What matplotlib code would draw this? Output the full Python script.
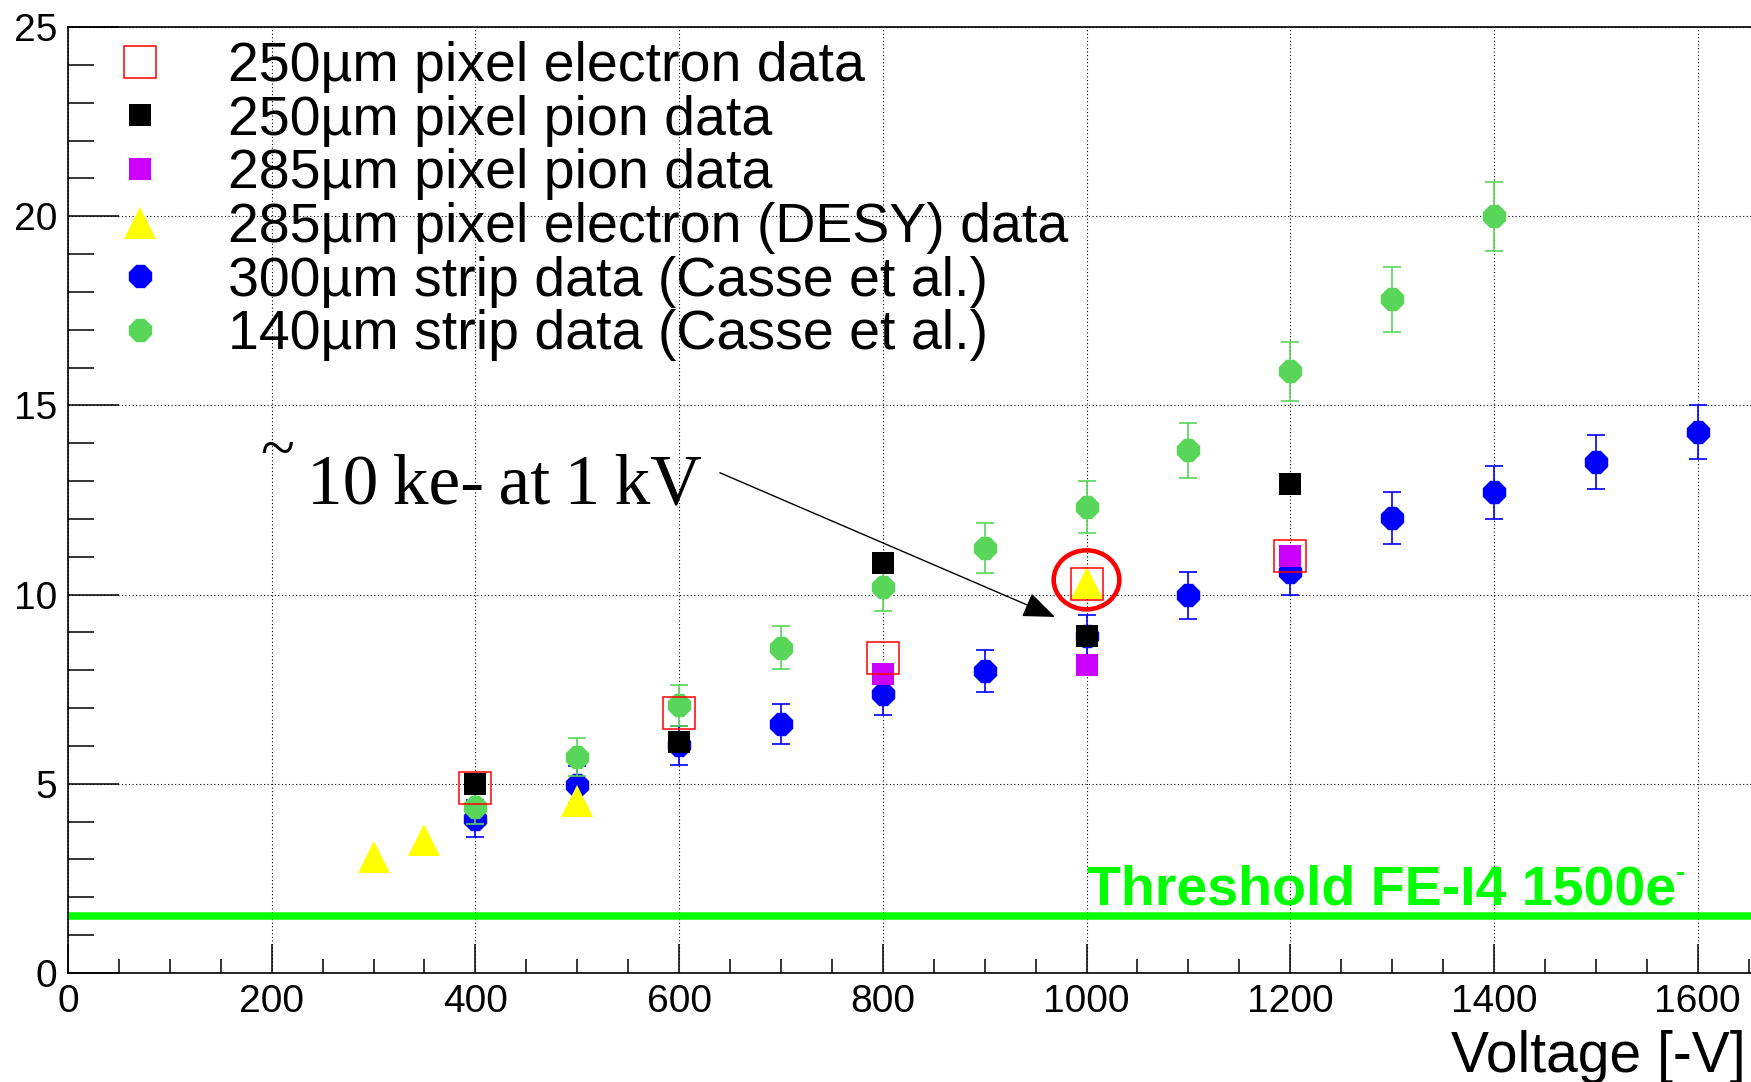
import matplotlib
matplotlib.use("Agg")
import matplotlib.pyplot as plt
from matplotlib.patches import Ellipse
from matplotlib.ticker import MultipleLocator

# ---------------- data ----------------
v_e250 = [400, 600, 800, 1000, 1200]
q_e250 = [4.89, 6.88, 8.33, 10.27, 11.02]

v_pi250 = [400, 600, 800, 1000, 1200]
q_pi250 = [5.00, 6.11, 10.83, 8.91, 12.92]

v_pi285 = [800, 1000, 1200]
q_pi285 = [7.89, 8.15, 11.02]

v_desy = [300, 350, 500, 1000]
q_desy = [3.06, 3.52, 4.55, 10.31]

v_s300 = [400, 500, 600, 700, 800, 900, 1000, 1100, 1200, 1300, 1400, 1500, 1600]
q_s300 = [4.08, 4.98, 6.02, 6.58, 7.36, 7.98, 8.90, 9.98, 10.60, 12.03, 12.70, 13.50, 14.30]
e_s300 = [0.48, 0.50, 0.52, 0.53, 0.53, 0.55, 0.55, 0.62, 0.60, 0.69, 0.69, 0.72, 0.71]

v_s140 = [400, 500, 600, 700, 800, 900, 1000, 1100, 1200, 1300, 1400]
q_s140 = [4.39, 5.70, 7.08, 8.60, 10.19, 11.22, 12.32, 13.81, 15.90, 17.80, 20.00]
e_s140 = [0.45, 0.50, 0.54, 0.57, 0.62, 0.66, 0.69, 0.72, 0.78, 0.85, 0.91]

labels = ["250\u00b5m pixel electron data",
          "250\u00b5m pixel pion data",
          "285\u00b5m pixel pion data",
          "285\u00b5m pixel electron (DESY) data",
          "300\u00b5m strip data (Casse et al.)",
          "140\u00b5m strip data (Casse et al.)"]

threshold = 1.5
x_max, y_max = 1700, 25
x_ticks = list(range(0, 1601, 200))
y_ticks = list(range(0, 26, 5))

# ---------------- style ----------------
SANS = ["Liberation Sans", "DejaVu Sans"]
SERIF = ["Liberation Serif", "DejaVu Serif"]
plt.rcParams["font.family"] = SANS

C_GREEN = "#59D55A"
C_BLUE = "#0000FF"
C_MAG = "#CC00FF"
C_YEL = "#FFFF00"
C_RED = "#FF0000"

W, H = 1751, 1082
fig = plt.figure(figsize=(W / 100, H / 100), dpi=100)
ax = fig.add_axes([68 / W, 109 / H, 1731.5 / W, 946 / H])
ax.set_xlim(0, x_max)
ax.set_ylim(0, y_max)

# grid
ax.set_axisbelow(True)
ax.grid(True, which="major", color="black", lw=0.8, ls=(0, (1, 2.2)))

# threshold
ax.axhline(threshold, color="#00FF00", lw=5.4, zorder=1.5)

# series
eb_blue = ax.errorbar(v_s300, q_s300, yerr=e_s300, fmt="8", color=C_BLUE, ms=16.5,
                      elinewidth=1.2, capsize=6.5, capthick=1.2, zorder=3)
eb_green = ax.errorbar(v_s140, q_s140, yerr=e_s140, fmt="8", color=C_GREEN, ms=16.5,
                       elinewidth=1.2, capsize=6.5, capthick=1.2, zorder=4)
l_black, = ax.plot(v_pi250, q_pi250, ls="none", marker="s", ms=16.5, mew=0,
                   color="black", zorder=5)
l_mag, = ax.plot(v_pi285, q_pi285, ls="none", marker="s", ms=16.5, mew=0,
                 color=C_MAG, zorder=6)
l_yel, = ax.plot(v_desy, q_desy, ls="none", marker="^", ms=23, mew=0,
                 color=C_YEL, zorder=7)
l_red, = ax.plot(v_e250, q_e250, ls="none", marker="s", ms=22.7, mfc="none",
                 mec=C_RED, mew=1.1, zorder=8)

# axes style
for s in ["left", "bottom", "top"]:
    ax.spines[s].set_linewidth(1.2)
ax.spines["right"].set_visible(False)
ax.set_xticks(x_ticks)
ax.set_yticks(y_ticks)
ax.xaxis.set_minor_locator(MultipleLocator(50))
ax.yaxis.set_minor_locator(MultipleLocator(1))
ax.tick_params(axis="both", which="both", direction="in", width=1.1,
               top=False, right=False, labelsize=28, pad=8)
ax.tick_params(axis="x", which="major", length=21)
ax.tick_params(axis="x", which="minor", length=10)
ax.tick_params(axis="y", which="major", length=36.5)
ax.tick_params(axis="y", which="minor", length=18.7)

# legend
leg = ax.legend([l_red, l_black, l_mag, l_yel, eb_blue.lines[0], eb_green.lines[0]],
                labels, loc="upper left", bbox_to_anchor=(112 / W, 1 - 41 / H),
                bbox_transform=fig.transFigure, frameon=False, fontsize=40,
                numpoints=1, handlelength=1.0, handletextpad=1.08,
                labelspacing=0.03, borderpad=0, borderaxespad=0)

# threshold text
t = ax.text(1000, 1.815, "Threshold FE-I4 1500e", fontsize=40, fontweight="bold",
            color="#00FF00", va="baseline", ha="left", zorder=2)
ax.annotate("-", xy=(1, 1), xycoords=t, xytext=(0, -12), textcoords="offset points",
            fontsize=20, fontweight="bold", color="#00FF00", va="baseline", ha="left")

# annotation text and arrow
ax.text(188.5, 13.32, "~", fontsize=45, family=SERIF, va="baseline", ha="left")
ax.text(235, 12.42, "10\u2009ke-\u2009at\u20091\u2009kV", fontsize=51.5, family=SERIF,
        va="baseline", ha="left")
ax.annotate("", xy=(969, 9.41), xytext=(640, 13.22),
            arrowprops=dict(arrowstyle="-|>,head_length=1.0,head_width=0.4",
                            mutation_scale=20, color="black", lw=1.0,
                            shrinkA=0, shrinkB=0), zorder=9)

# red circle highlight
ax.add_patch(Ellipse((1000, 10.39), width=64.5, height=1.56, fill=False,
                     edgecolor=C_RED, lw=3.3, zorder=10))

# x-axis title, kept fully inside the picture at the right edge
fig.text(1746 / W, 10 / H, "Voltage [-V]", fontsize=41, va="baseline", ha="right")

fig.savefig("out.png", dpi=100)
